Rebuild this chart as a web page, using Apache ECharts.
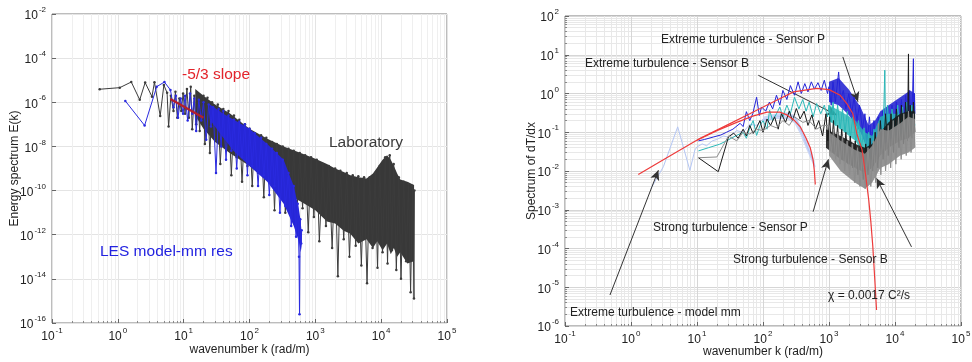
<!DOCTYPE html>
<html>
<head>
<meta charset="utf-8">
<title>Energy spectrum / dT/dx spectrum</title>
<script src="https://cdn.jsdelivr.net/npm/echarts@6/dist/echarts.min.js"></script>
<style>
  html, body { margin: 0; padding: 0; background: #fff; }
  .chart { width: 972px; height: 362px; }
</style>
</head>
<body>
<div class="chart"></div>
<script>
// ---------- left panel: energy spectrum ----------
var labK = [0.53, 1.07, 1.6, 2.15, 2.6, 3.3, 3.6, 4.4, 5.0, 5.6, 5.9, 6.4, 7.0, 7.5, 8.0, 8.6, 9.2, 9.8, 10.5, 11.2, 12, 12.8, 13.5, 14.5, 15.5, 16.5, 17.5, 18.5, 19.5,
  20, 21, 23, 25, 27, 30, 33, 36, 40, 44, 48, 53, 58, 64, 70, 77, 85, 93, 100, 110, 120, 135, 150, 165, 180, 200, 220, 240, 260, 290,
  320, 350, 390, 430, 470, 520, 580, 640, 700, 780, 860, 950, 1050, 1150, 1300, 1450, 1600, 1800, 2000, 2200, 2400, 2700, 3000, 3300, 3700, 4100,
  4500, 5000, 5500, 6100, 6700, 7400, 8100, 8800, 9500, 10500, 11500, 12500, 13500, 14500, 15500, 17000, 18500, 20000, 22000, 24000, 26000, 28000,
  30000, 31500, 32000];
var labE = [3.9e-6, 4.6e-6, 8.3e-6, 1.3e-6, 7.8e-6, 1.8e-6, 8.1e-6, 2.4e-7, 6e-6, 2.7e-6, 8e-8, 2e-6, 4e-7, 3e-6, 2e-7, 1.5e-6, 4e-7, 2.5e-6, 3e-7, 4e-6, 2e-7, 5e-6, 6e-8, 2e-6, 1e-7, 1.5e-6, 5e-8, 1e-6, 1.5e-7,
  2e-6, 1.3e-8, 1.6e-6, 5e-9, 1e-6, 2.5e-8, 7.9e-7, 1.6e-9, 5e-7, 1e-8, 4e-7, 5e-10, 2.5e-7, 3.2e-9, 1.6e-7, 2.5e-10, 1e-7, 1.3e-9, 6.3e-8, 1.6e-10, 4e-8, 6.3e-10, 3.2e-8, 5e-11, 2.5e-8, 2.5e-10, 1.6e-8, 1.3e-11, 1.3e-8, 6.3e-11,
  1e-8, 1e-11, 7.9e-9, 3.2e-11, 6.3e-9, 5e-12, 5e-9, 1.6e-11, 4e-9, 1.3e-12, 3.2e-9, 6.3e-12, 2.5e-9, 5e-13, 1.6e-9, 2.5e-12, 1.3e-9, 2.5e-13, 1e-9, 1.3e-14, 7.9e-10, 6.3e-13, 6.3e-10, 1e-13, 5e-10, 3.2e-13,
  4.5e-10, 4e-14, 4e-10, 6.3e-15, 4e-10, 2.5e-13, 6.3e-10, 3.2e-14, 1.3e-9, 1.6e-13, 3.2e-9, 5e-14, 4e-9, 2e-13, 1.6e-9, 2.5e-14, 4e-10, 1e-14, 2.5e-10, 6.3e-14, 2e-10, 2.5e-15,
  1.6e-10, 1.3e-15, 1e-10];
// solid body of the laboratory trace
var labBandK = [15, 20, 30, 50, 100, 200, 330, 600, 1000, 1500, 2000, 2700, 3400, 4500, 6000, 7500, 8700, 10500, 12300, 14000, 15600, 17500, 19500, 25000, 31600];
var labBandHi = [4e-6, 2e-6, 7.9e-7, 3.2e-7, 6.3e-8, 2e-8, 1e-8, 5e-9, 2.8e-9, 1.6e-9, 1e-9, 7e-10, 5e-10, 4e-10, 3.5e-10, 6e-10, 1.1e-9, 2.5e-9, 4e-9, 2.5e-9, 1.3e-9, 6e-10, 3.2e-10, 2.5e-10, 1.8e-10];
var labBandLo = [2.5e-7, 6.3e-8, 1.6e-8, 5e-9, 1.3e-9, 2.5e-10, 7.9e-11, 3.2e-11, 1.3e-11, 4e-12, 3.2e-12, 1.5e-12, 1.1e-12, 4e-13, 6.3e-13, 2.5e-13, 5e-13, 2e-13, 4e-13, 1.3e-13, 2.5e-13, 1e-13, 1.6e-13, 5e-14, 6.3e-14];

var lesK = [1.3, 2.55, 3.9, 5.1, 6.3, 7.0, 7.6, 8.2, 9, 9.8, 10.5, 11.5, 12.5, 13.5, 14.5, 15.5, 17, 18.5, 20, 22, 24, 26, 28, 31, 34, 37, 40, 44, 48, 53,
  58, 64, 70, 77, 85, 93, 100, 110, 120, 135, 150, 165, 180, 200, 220, 240, 260, 290, 320, 350, 390, 430, 470, 510, 540, 565, 575, 590, 610, 620];
var lesE = [1.15e-6, 8.9e-8, 5.1e-6, 8.3e-6, 3.6e-6, 6e-7, 2e-6, 2e-7, 1.5e-6, 3e-7, 2e-6, 1.5e-7, 2.5e-6, 3e-7, 1.5e-6, 5e-8, 1.3e-6, 1.5e-7, 1e-6, 2e-8, 8e-7, 8e-8, 6e-7, 6.3e-10, 5e-7, 1e-8, 4e-7, 2.5e-9, 2.5e-7, 6.3e-9,
  1.6e-7, 1e-9, 1.3e-7, 3.2e-9, 1e-7, 5e-10, 6.3e-8, 1.3e-9, 4e-8, 1.6e-10, 2.5e-8, 5e-10, 1.3e-8, 6.3e-11, 7.9e-9, 1.6e-10, 5e-9, 1e-11, 2.5e-9, 2e-11, 6.3e-10, 2.5e-12, 1.6e-10, 8e-13, 2.5e-11, 1e-13, 2.5e-16, 5e-12, 4e-13, 1.6e-12];
var lesBandK = [25, 40, 58, 100, 186, 330, 470, 560, 600, 620];
var lesBandHi = [8e-7, 3e-7, 1.6e-7, 6.3e-8, 1.3e-8, 2.5e-9, 1.6e-10, 1.6e-11, 4e-12, 1e-12];
var lesBandLo = [1.6e-7, 2.5e-8, 6e-9, 1.3e-9, 2.5e-10, 2.5e-11, 2.5e-12, 5e-13, 1.6e-13, 3.2e-13];

var slopeK = [6.3, 20];
var slopeE = [1.4e-6, 2e-7];

// ---------- right panel: spectrum of dT/dx ----------
var chiK = [1.29, 3, 11, 30, 63, 150, 290, 650, 1000, 1480, 1860, 2300, 2630, 3170, 3560, 4000, 4300, 4600, 4900, 5250];
var chiY = [8.1e-3, 0.019, 0.069, 0.16, 0.30, 0.63, 1.1, 1.35, 1.26, 0.9, 0.55, 0.3, 0.093, 0.035, 8.7e-3, 1.8e-3, 5e-4, 1.2e-4, 2e-5, 2.6e-6];
var chi2K = [10, 20, 40, 70, 115, 180, 230, 300, 365, 450, 520, 575, 600, 620];
var chi2Y = [0.062, 0.11, 0.18, 0.26, 0.33, 0.33, 0.28, 0.2, 0.14, 0.07, 0.04, 0.019, 0.01, 0.0045];

var modelK = [2.0, 3.1, 5.1, 7.8, 9.3, 10, 12, 14, 17, 20, 25, 30, 40, 50, 63, 80, 100, 125, 150, 190, 230, 270, 300, 340, 365, 410, 460, 510, 560, 615];
var modelY = [3.5e-3, 0.013, 0.138, 0.0104, 0.035, 0.042, 0.05, 0.045, 0.06, 0.065, 0.08, 0.075, 0.11, 0.1, 0.16, 0.15, 0.22, 0.2, 0.27, 0.25, 0.3, 0.26, 0.25, 0.17, 0.12, 0.08, 0.045, 0.03, 0.02, 0.013];
var modelBandK = [100, 150, 230, 300, 365, 460, 560, 615];
var modelBandHi = [0.25, 0.3, 0.33, 0.28, 0.16, 0.065, 0.028, 0.015];
var modelBandLo = [0.18, 0.22, 0.22, 0.17, 0.09, 0.035, 0.016, 0.011];

var extPK = [10.5, 13, 18, 23, 28, 35, 45, 50, 56, 63, 70, 80, 88, 95, 110, 125, 140, 160, 180, 200, 230, 260, 300, 340, 380, 430, 480, 540, 600, 680, 760, 850, 950,
  1000, 1080, 1150, 1250, 1400, 1500, 1650, 1800, 2000, 2200, 2400, 2650, 2900, 3200, 3500, 3800, 4100, 4400, 4800, 5200, 5600, 6000, 6500, 7000, 7600, 8300, 9000, 9800,
  10500, 11500, 12500, 13500, 14500, 15500, 16500, 17500, 18500, 19000, 19300, 19700, 20000];
var extPY = [0.06, 0.065, 0.076, 0.085, 0.10, 0.12, 0.17, 0.14, 0.34, 0.2, 0.3, 0.8, 0.27, 0.45, 0.35, 0.6, 0.4, 0.9, 0.5, 1.2, 0.7, 1.6, 0.9, 2.0, 1.0, 1.8, 1.1, 2.0, 1.3, 1.9, 1.2, 2.2, 1.0,
  1.5, 0.5, 2.0, 0.6, 3.6, 0.7, 1.2, 0.4, 1.0, 0.3, 0.8, 0.2, 0.5, 0.12, 0.3, 0.06, 0.25, 0.05, 0.2, 0.04, 0.25, 0.05, 0.35, 0.07, 0.4, 0.08, 0.5, 0.1,
  0.6, 0.12, 0.7, 0.1, 0.9, 0.15, 1.2, 0.2, 1.0, 7.9, 0.2, 1.0, 0.3];
var extPBandK = [1000, 1400, 2000, 3000, 4000, 5000, 6000, 8000, 12000, 17000, 20000];
var extPBandHi = [2.0, 2.5, 1.26, 0.45, 0.15, 0.2, 0.35, 0.5, 0.8, 1.2, 1.0];
var extPBandLo = [0.6, 0.5, 0.28, 0.1, 0.03, 0.025, 0.04, 0.063, 0.1, 0.13, 0.25];

var extBK = [10.5, 15, 22, 28, 33, 40, 50, 56, 63, 71, 80, 90, 100, 115, 126, 140, 160, 180, 200, 230, 260, 300, 350, 400, 450, 500, 575, 650, 750, 850, 950,
  1000, 1080, 1150, 1250, 1350, 1480, 1600, 1750, 1900, 2100, 2300, 2550, 2800, 3100, 3400, 3700, 4000, 4400, 4800, 5300, 5800, 6300, 6800, 7000, 7200, 7700,
  8300, 9000, 10000, 11000, 12000, 13000, 14000, 15000, 16500, 18000, 20000];
var extBY = [0.033, 0.04, 0.049, 0.06, 0.07, 0.083, 0.1, 0.07, 0.13, 0.2, 0.083, 0.15, 0.2, 0.12, 0.37, 0.2, 0.3, 0.45, 0.25, 0.5, 0.3, 0.8, 0.4, 0.7, 0.35, 0.6, 0.25, 0.55, 0.3, 0.5, 0.25,
  0.5, 0.18, 0.6, 0.15, 0.5, 0.12, 0.4, 0.1, 0.35, 0.07, 0.25, 0.06, 0.2, 0.04, 0.13, 0.025, 0.1, 0.02, 0.12, 0.03, 0.2, 0.04, 0.5, 4.0, 0.08, 0.5,
  0.06, 0.4, 0.07, 0.5, 0.08, 0.45, 0.07, 0.6, 0.1, 0.5, 0.15];
var extBBandK = [1000, 1500, 2500, 3500, 4500, 6000, 8000, 12000, 20000];
var extBBandHi = [0.5, 0.35, 0.2, 0.1, 0.08, 0.25, 0.3, 0.3, 0.35];
var extBBandLo = [0.2, 0.12, 0.06, 0.025, 0.02, 0.05, 0.07, 0.09, 0.12];

var strPK = [10.5, 21, 30, 36, 42, 50, 56, 63, 71, 80, 90, 100, 115, 130, 150, 170, 190, 220, 250, 280, 320, 365, 420, 480, 550, 620, 700, 800,
  900, 960, 1020, 1090, 1170, 1250, 1350, 1450, 1560, 1680, 1800, 1950, 2100, 2300, 2500, 2750, 3000, 3300, 3600, 3900, 4200, 4600, 5000, 5500, 6000, 6600,
  7200, 7900, 8700, 9500, 10500, 11500, 12500, 13500, 14500, 15500, 16000, 16300, 17000, 18000, 19000, 20000];
var strPY = [0.022, 0.0096, 0.076, 0.095, 0.07, 0.12, 0.08, 0.15, 0.093, 0.13, 0.2, 0.1, 0.22, 0.15, 0.25, 0.12, 0.3, 0.18, 0.35, 0.2, 0.41, 0.22, 0.35, 0.15, 0.28, 0.12, 0.2, 0.08,
  0.3, 0.06, 0.25, 0.04, 0.2, 0.03, 0.15, 0.025, 0.12, 0.02, 0.1, 0.015, 0.08, 0.012, 0.06, 0.008, 0.05, 0.006, 0.05, 0.008, 0.07, 0.01, 0.1, 0.012, 0.2, 0.02,
  0.3, 0.025, 0.3, 0.03, 0.4, 0.04, 0.5, 0.05, 0.6, 0.06, 10.5, 0.08, 0.5, 0.07, 0.6, 0.1];
var strPBandK = [900, 1500, 2500, 3500, 4500, 6000, 8000, 12000, 16000, 20000];
var strPBandHi = [0.12, 0.08, 0.05, 0.04, 0.05, 0.1, 0.18, 0.3, 0.35, 0.35];
var strPBandLo = [0.04, 0.02, 0.012, 0.009, 0.012, 0.025, 0.04, 0.06, 0.07, 0.1];

var strBK = [10.5, 20, 30, 40, 50, 63, 80, 100, 130, 160, 200, 250, 300, 400, 500, 650, 800,
  1000, 1080, 1170, 1260, 1360, 1470, 1600, 1730, 1880, 2050, 2250, 2450, 2700, 2950, 3250, 3550, 3900, 4300, 4700, 5100, 5600, 6100, 6600, 7200,
  7900, 8600, 9400, 10300, 11300, 12400, 13600, 14800, 16000, 17500, 19000, 20000];
var strBY = [0.022, 0.023, 0.08, 0.06, 0.1, 0.09, 0.12, 0.11, 0.15, 0.13, 0.2, 0.15, 0.25, 0.18, 0.2, 0.12, 0.15,
  0.15, 0.03, 0.12, 0.02, 0.1, 0.015, 0.08, 0.01, 0.06, 0.008, 0.05, 0.005, 0.04, 0.004, 0.03, 0.0035, 0.04, 0.004, 0.06, 0.005, 0.17, 0.008, 0.12, 0.01,
  0.15, 0.012, 0.2, 0.015, 0.25, 0.02, 0.3, 0.025, 0.35, 0.03, 0.3, 0.04];
var strBBandK = [1000, 1500, 2500, 3500, 4500, 6000, 8000, 12000, 16000, 20000];
var strBBandHi = [0.1, 0.06, 0.035, 0.028, 0.045, 0.12, 0.11, 0.17, 0.25, 0.22];
var strBBandLo = [0.025, 0.01, 0.005, 0.0035, 0.005, 0.012, 0.015, 0.025, 0.03, 0.04];

// annotation arrows (data coords): [from, to]
var arrows = [
  [[1620, 8.8], [2750, 0.61]],
  [[85, 2.95], [1320, 0.275]],
  [[575, 8.9e-4], [980, 0.02]],
  [[17800, 1.1e-4], [5250, 6.5e-3]],
  [[0.48, 6.3e-6], [2.6, 0.0105]]
];

(function () {
  var myChart = echarts.init(document.querySelector('.chart'));
  var font = 'Liberation Sans, Arial, Helvetica, sans-serif';

  function pairs(k, v) {
    return k.map(function (x, i) { return [x, v[i]]; });
  }
  // 10^n labels with a raised exponent
  function powLabel(v) {
    return '{b|10}{s|' + Math.round(Math.log10(v)) + '}';
  }
  var rich = {
    b: { fontSize: 12, fontFamily: font, color: '#222', lineHeight: 14, verticalAlign: 'bottom' },
    s: { fontSize: 8, fontFamily: font, color: '#222', padding: [0, 0, 8, 1] }
  };

  function xAxis(gi, major, minor, gap) {
    return {
      type: 'log', gridIndex: gi, min: 0.1, max: 1e5, interval: 1,
      name: 'wavenumber k (rad/m)', nameLocation: 'middle', nameGap: gap, nameMoveOverlap: false,
      nameTextStyle: { color: '#222', fontSize: 12, fontFamily: font },
      axisLine: { show: false },
      axisTick: { inside: true, length: 4, lineStyle: { color: '#666' } },
      minorTick: { show: true, splitNumber: 9, length: 2, lineStyle: { color: '#888' } },
      axisLabel: { formatter: powLabel, rich: rich, margin: 4 },
      splitLine: { show: true, lineStyle: { color: major, width: 1 } },
      minorSplitLine: { show: true, lineStyle: { color: minor, width: 1 } }
    };
  }

  function bandSeries(gi, k, hi, lo, color, z, alpha) {
    return {
      type: 'custom', xAxisIndex: gi, yAxisIndex: gi, z: z, silent: true,
      data: [[k[0], hi[0]]],
      renderItem: function (params, api) {
        var pts = [];
        for (var i = 0; i < k.length; i++) pts.push(api.coord([k[i], hi[i]]));
        for (var j = k.length - 1; j >= 0; j--) pts.push(api.coord([k[j], lo[j]]));
        return { type: 'polygon', shape: { points: pts }, style: { fill: color, opacity: alpha || 1 } };
      }
    };
  }

  function lineSeries(gi, k, v, color, width, z, dots) {
    return {
      type: 'line', xAxisIndex: gi, yAxisIndex: gi, z: z, silent: true,
      data: pairs(k, v),
      showSymbol: !!dots, showAllSymbol: true, symbol: 'circle', symbolSize: 2.5,
      itemStyle: { color: color },
      lineStyle: { color: color, width: width }
    };
  }

  var chi = lineSeries(1, chiK, chiY, '#ee3b3b', 1.2, 20);
  chi.markLine = {
    silent: true, symbol: ['none', 'arrow'], symbolSize: [7, 10],
    lineStyle: { color: '#333', width: 1, type: 'solid' },
    label: { show: false },
    data: arrows.map(function (a) { return [{ coord: a[0] }, { coord: a[1] }]; })
  };

  function txt(x, y, s, color, size) {
    return {
      type: 'text', x: x, y: y, z: 100,
      style: { text: s, fill: color, font: size + 'px ' + font, verticalAlign: 'middle' }
    };
  }

  var option = {
    animation: false,
    backgroundColor: '#fff',
    grid: [
      { left: 52, top: 14, width: 395, height: 309, outerBoundsMode: 'none', show: true, borderColor: '#7a7a7a', backgroundColor: '#fff' },
      { left: 565, top: 16, width: 396, height: 310, outerBoundsMode: 'none', show: true, borderColor: '#7a7a7a', backgroundColor: '#fff' }
    ],
    xAxis: [xAxis(0, '#e4e4e4', '#efefef', 21), xAxis(1, '#d6d6d6', '#e8e8e8', 20)],
    yAxis: [
      {
        type: 'log', gridIndex: 0, min: 1e-16, max: 1e-2, interval: 2,
        name: 'Energy spectrum E(k)', nameLocation: 'middle', nameGap: 31, nameMoveOverlap: false,
        nameTextStyle: { color: '#222', fontSize: 12, fontFamily: font },
        axisLine: { show: false },
        axisTick: { inside: true, length: 4, lineStyle: { color: '#666' } },
        axisLabel: { formatter: powLabel, rich: rich, margin: 6 },
        splitLine: { show: true, lineStyle: { color: '#e4e4e4' } }
      },
      {
        type: 'log', gridIndex: 1, min: 1e-6, max: 100, interval: 1,
        name: 'Spectrum of dT/dx', nameLocation: 'middle', nameGap: 27, nameMoveOverlap: false,
        nameTextStyle: { color: '#222', fontSize: 12, fontFamily: font },
        axisLine: { show: false },
        axisTick: { inside: true, length: 4, lineStyle: { color: '#666' } },
        minorTick: { show: true, splitNumber: 9, length: 2, lineStyle: { color: '#888' } },
        axisLabel: { formatter: powLabel, rich: rich, margin: 6 },
        splitLine: { show: true, lineStyle: { color: '#d6d6d6' } },
        minorSplitLine: { show: true, lineStyle: { color: '#e8e8e8' } }
      }
    ],
    series: [
      // left
      bandSeries(0, labBandK, labBandHi, labBandLo, '#383838', 2),
      lineSeries(0, labK, labE, '#3c3c3c', 1, 3, true),
      bandSeries(0, lesBandK, lesBandHi, lesBandLo, '#2626d6', 4),
      lineSeries(0, lesK, lesE, '#2a2ae0', 1, 5, true),
      lineSeries(0, slopeK, slopeE, '#b3202c', 2.2, 6),
      // right
      bandSeries(1, modelBandK, modelBandHi, modelBandLo, '#c6d3f5', 2, 0.9),
      lineSeries(1, modelK, modelY, '#b4c6f4', 1, 3),
      bandSeries(1, extPBandK, extPBandHi, extPBandLo, '#1c1cd0', 4, 0.85),
      lineSeries(1, extPK, extPY, '#2424d8', 1, 5),
      bandSeries(1, extBBandK, extBBandHi, extBBandLo, '#27b4b4', 6, 0.8),
      lineSeries(1, extBK, extBY, '#2ab8b8', 1, 7),
      bandSeries(1, strPBandK, strPBandHi, strPBandLo, '#121212', 8, 0.85),
      lineSeries(1, strPK, strPY, '#1a1a1a', 1, 9),
      bandSeries(1, strBBandK, strBBandHi, strBBandLo, '#8a8a8a', 10, 0.9),
      lineSeries(1, strBK, strBY, '#8c8c8c', 1, 11),
      lineSeries(1, chi2K, chi2Y, '#ee3b3b', 1.2, 19),
      chi
    ],
    graphic: [
      txt(182, 75, '-5/3 slope', '#e3242b', 15.5),
      txt(329, 143, 'Laboratory', '#3a3a3a', 15.5),
      txt(100, 252, 'LES model-mm res', '#2222e0', 15.5),
      txt(661, 40, 'Extreme turbulence - Sensor P', '#222', 12),
      txt(585, 64, 'Extreme turbulence - Sensor B', '#222', 12),
      txt(653, 228, 'Strong turbulence - Sensor P', '#222', 12),
      txt(733, 260, 'Strong turbulence - Sensor B', '#222', 12),
      txt(570, 313, 'Extreme turbulence - model mm', '#222', 12),
      txt(828, 296, '\u03c7 = 0.0017 C\u00b2/s', '#222', 12)
    ]
  };
  myChart.setOption(option);
  window.addEventListener('resize', function () {
    myChart.resize();
  });
})();
</script>
</body>
</html>
